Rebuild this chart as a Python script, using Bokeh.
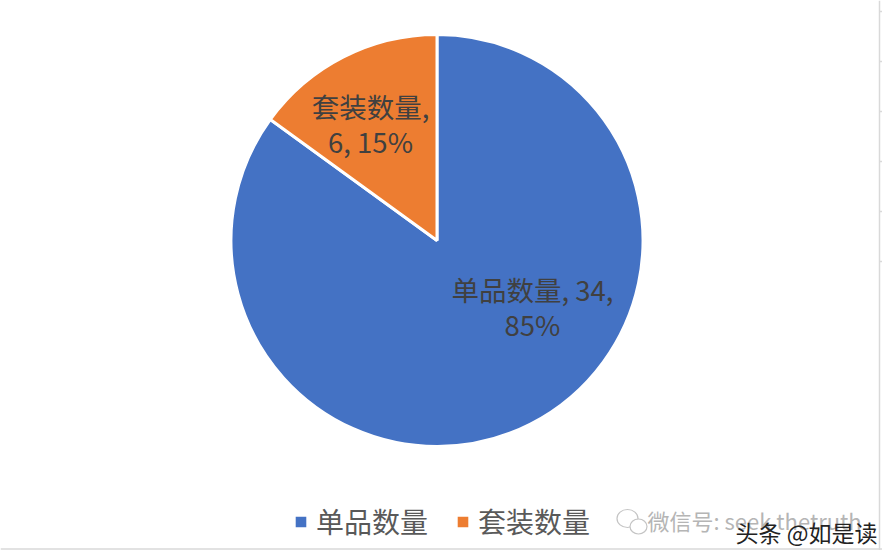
from math import pi
from bokeh.plotting import figure
from bokeh.models import Range1d, Legend, LegendItem, ColumnDataSource
from bokeh.core.properties import value
from bokeh.embed import file_html
from bokeh.resources import INLINE

categories = ["单品数量", "套装数量"]
counts = [34, 6]
colors = ["#4472C4", "#ED7D31"]
tick_rows = [11, 61, 111, 161, 211, 261]

W, H = 882, 550
CJK = "Noto Sans CJK SC"


def py(y):
    return H - y


p = figure(width=W, height=H, output_backend="svg", toolbar_location=None,
           x_range=Range1d(0, W), y_range=Range1d(0, H), min_border=0)
p.axis.visible = False
p.grid.visible = False
p.outline_line_color = None
p.background_fill_color = "#FFFFFF"
p.border_fill_color = "#FFFFFF"

# sheet edge behind the chart
p.segment(x0=[879], y0=[py(0)], x1=[879], y1=[py(550)], line_color="#D9D9D9", line_width=1.5)
p.segment(x0=[0], y0=[py(548.5)], x1=[882], y1=[py(548.5)], line_color="#D9D9D9", line_width=1.5)
p.segment(x0=[879] * len(tick_rows), y0=[py(t) for t in tick_rows],
          x1=[882] * len(tick_rows), y1=[py(t) for t in tick_rows],
          line_color="#D9D9D9", line_width=1.5)

# pie, clockwise from twelve o'clock
total = sum(counts)
start, ends, renderers, a = [], [], [], pi / 2
for c in counts:
    ends.append(a)
    a -= 2 * pi * c / total
    start.append(a)

for i, cat in enumerate(categories):
    r = p.wedge(x=[436.5], y=[py(240)], radius=206,
                start_angle=[start[i]], end_angle=[ends[i]],
                fill_color=colors[i], line_color="#FFFFFF", line_width=3)
    renderers.append(r)

pcts = [round(100 * c / total) for c in counts]
label_lines = [
    f"{categories[0]}, {counts[0]},\n{pcts[0]}%",
    f"{categories[1]},\n{counts[1]}, {pcts[1]}%",
]
src = ColumnDataSource(dict(x=[532, 370], y=[py(306), py(123)], t=label_lines))
p.text(x="x", y="y", text="t", source=src, text_font=value(CJK), text_font_size="27.5px",
       text_color="#404040", text_align="center", text_baseline="middle", text_line_height=0.87)

legend = Legend(items=[LegendItem(label=value(c), renderers=[r]) for c, r in zip(categories, renderers)],
                orientation="horizontal", location=(292, py(541)),
                background_fill_alpha=0, border_line_color=None,
                label_text_font=CJK, label_text_font_size="28px", label_text_color="#595959",
                glyph_width=17, glyph_height=17, spacing=26, margin=0, padding=0, label_standoff=7)
p.add_layout(legend, "center")

# watermark
p.ellipse(x=[627], y=[py(518)], width=21, height=18, fill_color="#FFFFFF", line_color="#C4C4C4", line_width=1.2)
p.ellipse(x=[638], y=[py(526)], width=17, height=15, fill_color="#FFFFFF", line_color="#C4C4C4", line_width=1.2)
p.text(x=[647], y=[py(519)], text=["微信号: seek thetruth"], text_font=value(CJK), text_font_size="22px",
       text_color="#B5B5B5", text_baseline="middle")
p.text(x=[735], y=[py(531)], text=["头条 @如是读"], text_font=value(CJK), text_font_size="23px",
       text_color="#222222", text_baseline="middle")

open("out.html", "w").write(file_html(p, INLINE))
